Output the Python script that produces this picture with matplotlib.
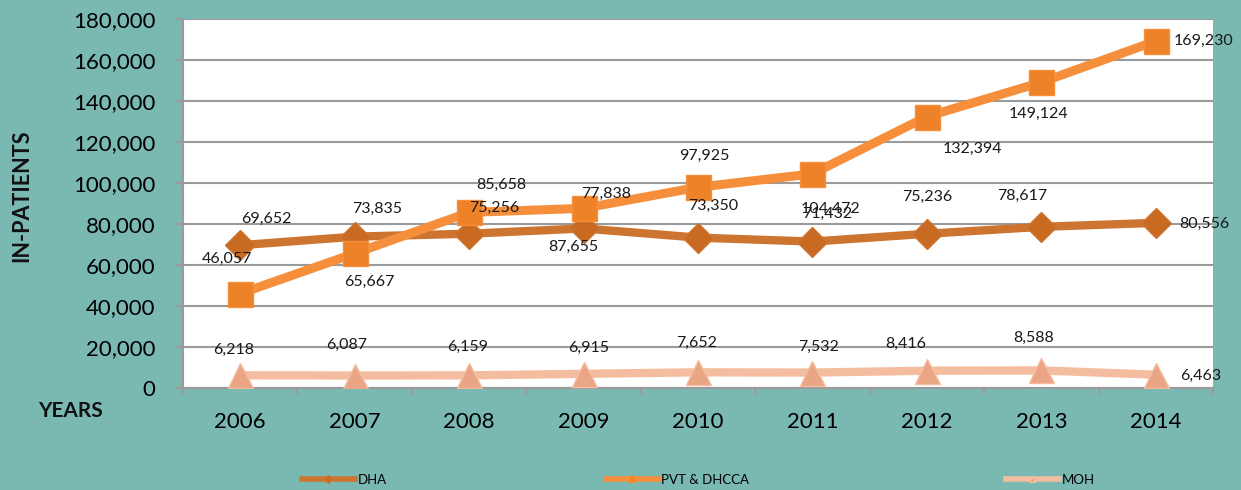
import matplotlib.pyplot as plt
from matplotlib.lines import Line2D
import numpy as np

# data
years = ['2006', '2007', '2008', '2009', '2010', '2011', '2012', '2013', '2014']
dha = [69652, 73835, 75256, 77838, 73350, 71432, 75236, 78617, 80556]
pvt = [46057, 65667, 85658, 87655, 97925, 104472, 132394, 149124, 169230]
moh = [6218, 6087, 6159, 6915, 7652, 7532, 8416, 8588, 6463]

# label text as shown in the chart (Excel put some labels on the wrong series)
dha_labels = ['69,652', '73,835', '75,256', '87,655', '73,350', '71,432', '75,236', '78,617', '80,556']
pvt_labels = ['46,057', '65,667', '85,658', '77,838', '97,925', '104,472', '132,394', '149,124', '169,230']
moh_labels = ['6,218', '6,087', '6,159', '6,915', '7,652', '7,532', '8,416', '8,588', '6,463']

# label offsets in pixels (dx, dy) from each marker
dha_off = [(26, 26), (22, 28), (25, 26), (-10, -18), (15, 32), (15, 28), (0, 37), (-19, 31), (49, -1)]
pvt_off = [(-13, 35), (15, -29), (32, 28), (23, 14), (6, 31), (18, -35), (46, -32), (-3, -32), (48, 0)]
moh_off = [(-7, 25), (-8, 31), (-1, 28), (5, 26), (-1, 29), (6, 26), (-21, 27), (-8, 33), (45, -1)]

BG = '#7AB8B2'
C_DHA = '#CD7431'
C_PVT = '#F58F3C'
C_MOH = '#F5BDA0'
GRID = '#9A9A9A'

plt.rcParams['font.family'] = ['Lato', 'DejaVu Sans']

fig = plt.figure(figsize=(12.41, 4.90), dpi=100, facecolor=BG)
ax = fig.add_axes([183 / 1241, 1 - 388 / 490, 1030 / 1241, 369 / 490])
ax.set_facecolor('white')

x = np.arange(len(years))

ax.plot(x, moh, color=C_MOH, lw=6, marker='^', ms=18, mfc='#E9A584', mec=C_MOH, zorder=3)
ax.plot(x, dha, color=C_DHA, lw=6, marker='D', ms=15, mfc='#C96A23', mec=C_DHA, zorder=4)
ax.plot(x, pvt, color=C_PVT, lw=6.5, marker='s', ms=18, mfc='#EE8229', mec=C_PVT, zorder=5)

for vals, labs, offs in [(dha, dha_labels, dha_off), (pvt, pvt_labels, pvt_off), (moh, moh_labels, moh_off)]:
    for i in range(len(vals)):
        ax.annotate(labs[i], (x[i], vals[i]), xytext=offs[i], textcoords='offset pixels',
                    ha='center', va='center', fontsize=11.5, color='#1a1a1a', zorder=6)

ax.set_xlim(-0.5, len(years) - 0.5)
ax.set_ylim(0, 180000)
ax.set_yticks(np.arange(0, 180001, 20000))
ax.set_yticklabels([f'{v:,}' for v in range(0, 180001, 20000)], fontsize=16)
ax.set_xticks(x)
ax.set_xticklabels(years, fontsize=16)
ax.set_xticks(np.arange(-0.5, len(years)), minor=True)
ax.tick_params(axis='x', which='major', length=0, pad=17)
ax.tick_params(axis='x', which='minor', length=4, color=GRID, width=1.5)
ax.tick_params(axis='y', length=6, color=GRID, width=1.5, pad=14)
ax.grid(axis='y', color=GRID, lw=1.5, zorder=1)
ax.set_axisbelow(True)

for s in ['top', 'right']:
    ax.spines[s].set_visible(False)
for s in ['left', 'bottom']:
    ax.spines[s].set_color(GRID)
    ax.spines[s].set_linewidth(1.5)

fig.text(22 / 1241, 1 - 196 / 490, 'IN-PATIENTS', rotation=90, fontsize=15.5, fontweight='bold',
         ha='center', va='center', color='#111111')
fig.text(71 / 1241, 1 - 411 / 490, 'YEARS', fontsize=15, fontweight='bold',
         ha='center', va='center', color='#111111')

# legend entries placed one by one, as in the reference
leg_items = [
    (Line2D([], [], color=C_DHA, lw=4, marker='D', ms=4, mfc='#C96A23'), 'DHA', 302),
    (Line2D([], [], color=C_PVT, lw=4, marker='s', ms=5, mfc='#EE8229'), 'PVT & DHCCA', 606),
    (Line2D([], [], color=C_MOH, lw=4, marker='^', ms=5, mfc='#E9A584'), 'MOH', 1006),
]
for h, lab, px in leg_items:
    fig.legend([h], [lab], loc='center left', bbox_to_anchor=(px / 1241, 1 - 480 / 490),
               frameon=False, fontsize=9.5, handlelength=4, handletextpad=0.2, borderpad=0,
               borderaxespad=0)

fig.savefig('out.png', dpi=100, facecolor=BG)
